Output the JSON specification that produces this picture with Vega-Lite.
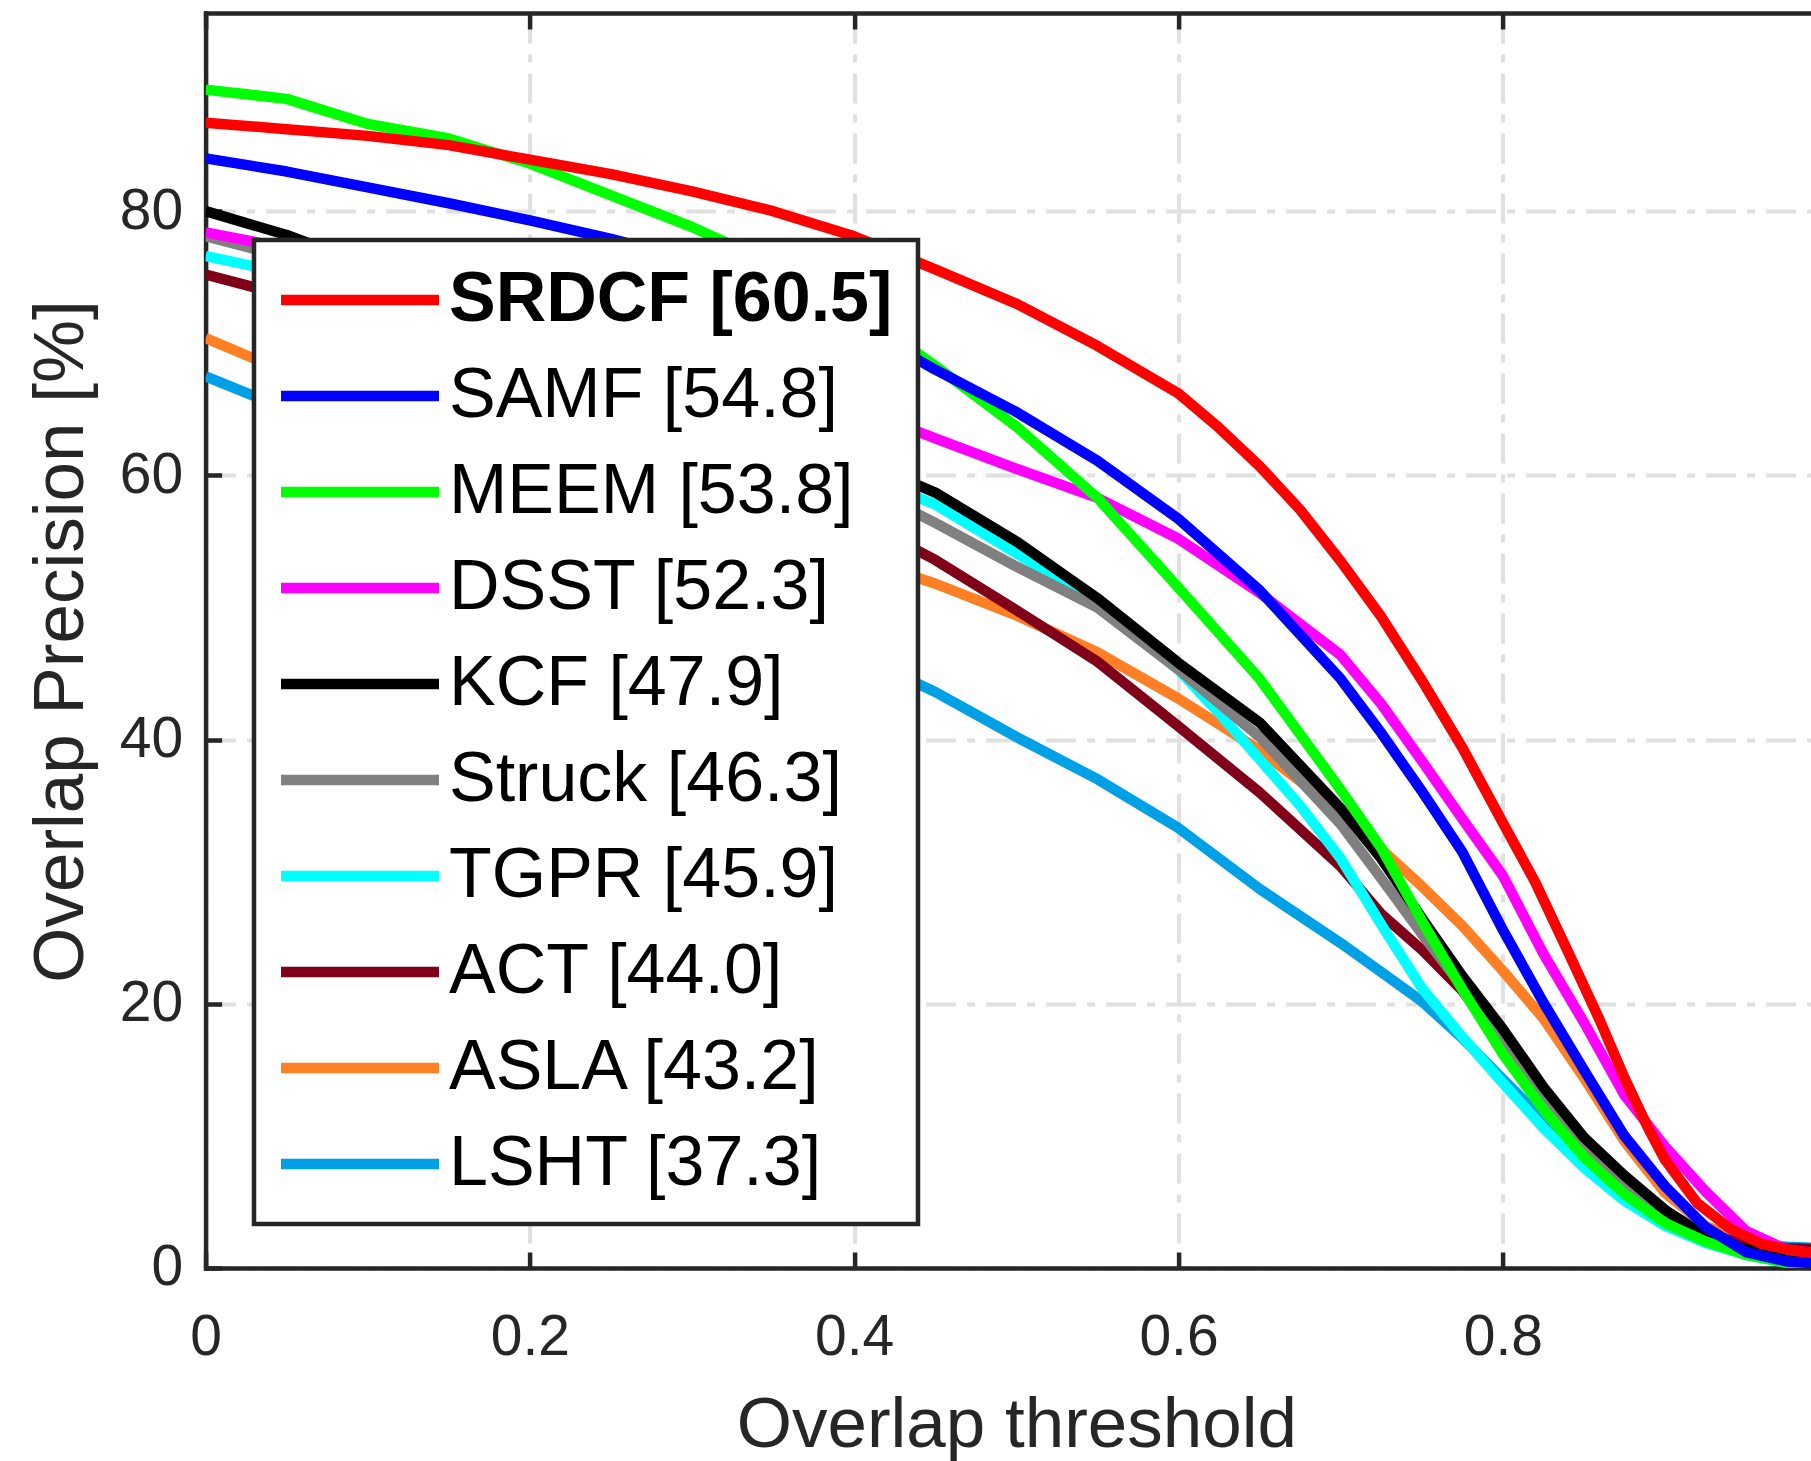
{
  "$schema": "https://vega.github.io/schema/vega-lite/v6.json",
  "autosize": {"type": "none"},
  "padding": {"left": 205.6, "top": 13, "right": 0, "bottom": 193},
  "width": 1605.3,
  "height": 1255,
  "background": "white",
  "config": {
    "view": {"stroke": null},
    "font": "Liberation Sans",
    "legend": {"strokeWidth": 4.5}
  },
  "datasets": {
    "curves": [
      {"k":"LSHT [37.3]","x":0,"y":67.5},{"k":"LSHT [37.3]","x":0.05,"y":65.0},{"k":"LSHT [37.3]","x":0.1,"y":62.4},{"k":"LSHT [37.3]","x":0.15,"y":59.7},{"k":"LSHT [37.3]","x":0.2,"y":57.0},{"k":"LSHT [37.3]","x":0.25,"y":54.3},{"k":"LSHT [37.3]","x":0.3,"y":51.7},{"k":"LSHT [37.3]","x":0.35,"y":49.1},{"k":"LSHT [37.3]","x":0.4,"y":46.5},{"k":"LSHT [37.3]","x":0.45,"y":43.6},{"k":"LSHT [37.3]","x":0.5,"y":40.2},{"k":"LSHT [37.3]","x":0.55,"y":37.0},{"k":"LSHT [37.3]","x":0.6,"y":33.3},{"k":"LSHT [37.3]","x":0.65,"y":28.7},{"k":"LSHT [37.3]","x":0.7,"y":24.6},{"k":"LSHT [37.3]","x":0.725,"y":22.4},{"k":"LSHT [37.3]","x":0.75,"y":20.2},{"k":"LSHT [37.3]","x":0.775,"y":17.4},{"k":"LSHT [37.3]","x":0.8,"y":14.3},{"k":"LSHT [37.3]","x":0.825,"y":11.2},{"k":"LSHT [37.3]","x":0.85,"y":8.6},{"k":"LSHT [37.3]","x":0.875,"y":6.4},{"k":"LSHT [37.3]","x":0.9,"y":4.3},{"k":"LSHT [37.3]","x":0.925,"y":2.6},{"k":"LSHT [37.3]","x":0.95,"y":1.8},{"k":"LSHT [37.3]","x":0.975,"y":1.6},{"k":"LSHT [37.3]","x":1.0,"y":1.5},

      {"k":"ASLA [43.2]","x":0,"y":70.4},{"k":"ASLA [43.2]","x":0.05,"y":67.8},{"k":"ASLA [43.2]","x":0.1,"y":65.6},{"k":"ASLA [43.2]","x":0.15,"y":63.5},{"k":"ASLA [43.2]","x":0.2,"y":61.5},{"k":"ASLA [43.2]","x":0.25,"y":59.5},{"k":"ASLA [43.2]","x":0.3,"y":57.6},{"k":"ASLA [43.2]","x":0.35,"y":55.7},{"k":"ASLA [43.2]","x":0.4,"y":53.9},{"k":"ASLA [43.2]","x":0.45,"y":51.8},{"k":"ASLA [43.2]","x":0.5,"y":49.4},{"k":"ASLA [43.2]","x":0.55,"y":46.6},{"k":"ASLA [43.2]","x":0.6,"y":43.1},{"k":"ASLA [43.2]","x":0.65,"y":39.2},{"k":"ASLA [43.2]","x":0.7,"y":34.5},{"k":"ASLA [43.2]","x":0.725,"y":31.7},{"k":"ASLA [43.2]","x":0.75,"y":28.9},{"k":"ASLA [43.2]","x":0.775,"y":25.9},{"k":"ASLA [43.2]","x":0.8,"y":22.5},{"k":"ASLA [43.2]","x":0.825,"y":18.9},{"k":"ASLA [43.2]","x":0.85,"y":14.4},{"k":"ASLA [43.2]","x":0.875,"y":9.6},{"k":"ASLA [43.2]","x":0.9,"y":5.7},{"k":"ASLA [43.2]","x":0.925,"y":3.2},{"k":"ASLA [43.2]","x":0.95,"y":1.9},{"k":"ASLA [43.2]","x":0.975,"y":1.4},{"k":"ASLA [43.2]","x":1.0,"y":1.3},

      {"k":"ACT [44.0]","x":0,"y":75.2},{"k":"ACT [44.0]","x":0.05,"y":73.6},{"k":"ACT [44.0]","x":0.1,"y":71.6},{"k":"ACT [44.0]","x":0.15,"y":69.5},{"k":"ACT [44.0]","x":0.2,"y":67.1},{"k":"ACT [44.0]","x":0.25,"y":64.6},{"k":"ACT [44.0]","x":0.3,"y":62.0},{"k":"ACT [44.0]","x":0.35,"y":59.5},{"k":"ACT [44.0]","x":0.4,"y":56.8},{"k":"ACT [44.0]","x":0.45,"y":53.6},{"k":"ACT [44.0]","x":0.5,"y":49.8},{"k":"ACT [44.0]","x":0.55,"y":45.9},{"k":"ACT [44.0]","x":0.6,"y":41.0},{"k":"ACT [44.0]","x":0.65,"y":36.0},{"k":"ACT [44.0]","x":0.7,"y":30.4},{"k":"ACT [44.0]","x":0.725,"y":26.8},{"k":"ACT [44.0]","x":0.75,"y":24.1},{"k":"ACT [44.0]","x":0.775,"y":21.0},{"k":"ACT [44.0]","x":0.8,"y":17.0},{"k":"ACT [44.0]","x":0.825,"y":12.8},{"k":"ACT [44.0]","x":0.85,"y":9.1},{"k":"ACT [44.0]","x":0.875,"y":6.2},{"k":"ACT [44.0]","x":0.9,"y":4.1},{"k":"ACT [44.0]","x":0.925,"y":2.6},{"k":"ACT [44.0]","x":0.95,"y":1.8},{"k":"ACT [44.0]","x":0.975,"y":1.5},{"k":"ACT [44.0]","x":1.0,"y":1.4},

      {"k":"TGPR [45.9]","x":0,"y":76.6},{"k":"TGPR [45.9]","x":0.05,"y":75.3},{"k":"TGPR [45.9]","x":0.1,"y":73.4},{"k":"TGPR [45.9]","x":0.15,"y":71.4},{"k":"TGPR [45.9]","x":0.2,"y":69.2},{"k":"TGPR [45.9]","x":0.25,"y":67.0},{"k":"TGPR [45.9]","x":0.3,"y":64.7},{"k":"TGPR [45.9]","x":0.35,"y":62.4},{"k":"TGPR [45.9]","x":0.4,"y":60.2},{"k":"TGPR [45.9]","x":0.45,"y":57.8},{"k":"TGPR [45.9]","x":0.5,"y":54.1},{"k":"TGPR [45.9]","x":0.55,"y":50.3},{"k":"TGPR [45.9]","x":0.6,"y":45.3},{"k":"TGPR [45.9]","x":0.625,"y":42.0},{"k":"TGPR [45.9]","x":0.65,"y":38.5},{"k":"TGPR [45.9]","x":0.675,"y":35.0},{"k":"TGPR [45.9]","x":0.7,"y":31.0},{"k":"TGPR [45.9]","x":0.725,"y":26.0},{"k":"TGPR [45.9]","x":0.75,"y":21.2},{"k":"TGPR [45.9]","x":0.775,"y":17.5},{"k":"TGPR [45.9]","x":0.8,"y":14.0},{"k":"TGPR [45.9]","x":0.825,"y":10.6},{"k":"TGPR [45.9]","x":0.85,"y":7.6},{"k":"TGPR [45.9]","x":0.875,"y":5.1},{"k":"TGPR [45.9]","x":0.9,"y":3.2},{"k":"TGPR [45.9]","x":0.925,"y":1.9},{"k":"TGPR [45.9]","x":0.95,"y":1.0},{"k":"TGPR [45.9]","x":0.975,"y":0.4},{"k":"TGPR [45.9]","x":1.0,"y":0.2},

      {"k":"Struck [46.3]","x":0,"y":78.1},{"k":"Struck [46.3]","x":0.05,"y":76.5},{"k":"Struck [46.3]","x":0.1,"y":74.5},{"k":"Struck [46.3]","x":0.15,"y":72.2},{"k":"Struck [46.3]","x":0.2,"y":69.8},{"k":"Struck [46.3]","x":0.25,"y":67.2},{"k":"Struck [46.3]","x":0.3,"y":64.7},{"k":"Struck [46.3]","x":0.35,"y":62.1},{"k":"Struck [46.3]","x":0.4,"y":59.5},{"k":"Struck [46.3]","x":0.45,"y":56.4},{"k":"Struck [46.3]","x":0.5,"y":53.1},{"k":"Struck [46.3]","x":0.55,"y":50.0},{"k":"Struck [46.3]","x":0.6,"y":45.3},{"k":"Struck [46.3]","x":0.65,"y":40.2},{"k":"Struck [46.3]","x":0.7,"y":33.6},{"k":"Struck [46.3]","x":0.725,"y":29.5},{"k":"Struck [46.3]","x":0.75,"y":25.3},{"k":"Struck [46.3]","x":0.775,"y":21.3},{"k":"Struck [46.3]","x":0.8,"y":16.9},{"k":"Struck [46.3]","x":0.825,"y":12.5},{"k":"Struck [46.3]","x":0.85,"y":8.9},{"k":"Struck [46.3]","x":0.875,"y":6.1},{"k":"Struck [46.3]","x":0.9,"y":3.9},{"k":"Struck [46.3]","x":0.925,"y":2.3},{"k":"Struck [46.3]","x":0.95,"y":1.3},{"k":"Struck [46.3]","x":0.975,"y":1.0},{"k":"Struck [46.3]","x":1.0,"y":0.9},

      {"k":"KCF [47.9]","x":0,"y":80.0},{"k":"KCF [47.9]","x":0.05,"y":78.2},{"k":"KCF [47.9]","x":0.1,"y":75.9},{"k":"KCF [47.9]","x":0.15,"y":73.6},{"k":"KCF [47.9]","x":0.2,"y":71.0},{"k":"KCF [47.9]","x":0.25,"y":68.5},{"k":"KCF [47.9]","x":0.3,"y":66.0},{"k":"KCF [47.9]","x":0.35,"y":63.6},{"k":"KCF [47.9]","x":0.4,"y":61.3},{"k":"KCF [47.9]","x":0.45,"y":58.7},{"k":"KCF [47.9]","x":0.5,"y":55.0},{"k":"KCF [47.9]","x":0.55,"y":50.7},{"k":"KCF [47.9]","x":0.6,"y":45.8},{"k":"KCF [47.9]","x":0.65,"y":41.3},{"k":"KCF [47.9]","x":0.7,"y":34.8},{"k":"KCF [47.9]","x":0.725,"y":31.0},{"k":"KCF [47.9]","x":0.75,"y":26.5},{"k":"KCF [47.9]","x":0.775,"y":22.1},{"k":"KCF [47.9]","x":0.8,"y":18.1},{"k":"KCF [47.9]","x":0.825,"y":13.7},{"k":"KCF [47.9]","x":0.85,"y":9.9},{"k":"KCF [47.9]","x":0.875,"y":7.0},{"k":"KCF [47.9]","x":0.9,"y":4.4},{"k":"KCF [47.9]","x":0.925,"y":2.4},{"k":"KCF [47.9]","x":0.95,"y":1.4},{"k":"KCF [47.9]","x":0.975,"y":1.0},{"k":"KCF [47.9]","x":1.0,"y":0.9},

      {"k":"DSST [52.3]","x":0,"y":78.4},{"k":"DSST [52.3]","x":0.05,"y":77.2},{"k":"DSST [52.3]","x":0.1,"y":75.8},{"k":"DSST [52.3]","x":0.15,"y":74.2},{"k":"DSST [52.3]","x":0.2,"y":72.5},{"k":"DSST [52.3]","x":0.25,"y":70.8},{"k":"DSST [52.3]","x":0.3,"y":69.0},{"k":"DSST [52.3]","x":0.35,"y":67.2},{"k":"DSST [52.3]","x":0.4,"y":65.2},{"k":"DSST [52.3]","x":0.45,"y":62.8},{"k":"DSST [52.3]","x":0.5,"y":60.5},{"k":"DSST [52.3]","x":0.55,"y":58.3},{"k":"DSST [52.3]","x":0.6,"y":55.2},{"k":"DSST [52.3]","x":0.65,"y":51.1},{"k":"DSST [52.3]","x":0.7,"y":46.4},{"k":"DSST [52.3]","x":0.725,"y":42.7},{"k":"DSST [52.3]","x":0.75,"y":38.4},{"k":"DSST [52.3]","x":0.775,"y":34.0},{"k":"DSST [52.3]","x":0.8,"y":29.7},{"k":"DSST [52.3]","x":0.825,"y":23.8},{"k":"DSST [52.3]","x":0.85,"y":18.6},{"k":"DSST [52.3]","x":0.875,"y":13.1},{"k":"DSST [52.3]","x":0.9,"y":9.2},{"k":"DSST [52.3]","x":0.925,"y":5.8},{"k":"DSST [52.3]","x":0.95,"y":2.8},{"k":"DSST [52.3]","x":0.975,"y":1.4},{"k":"DSST [52.3]","x":1.0,"y":1.0},

      {"k":"MEEM [53.8]","x":0,"y":89.2},{"k":"MEEM [53.8]","x":0.05,"y":88.5},{"k":"MEEM [53.8]","x":0.1,"y":86.6},{"k":"MEEM [53.8]","x":0.15,"y":85.5},{"k":"MEEM [53.8]","x":0.2,"y":83.6},{"k":"MEEM [53.8]","x":0.25,"y":81.2},{"k":"MEEM [53.8]","x":0.3,"y":78.8},{"k":"MEEM [53.8]","x":0.35,"y":76.0},{"k":"MEEM [53.8]","x":0.4,"y":72.6},{"k":"MEEM [53.8]","x":0.45,"y":68.3},{"k":"MEEM [53.8]","x":0.5,"y":63.7},{"k":"MEEM [53.8]","x":0.55,"y":58.3},{"k":"MEEM [53.8]","x":0.6,"y":51.5},{"k":"MEEM [53.8]","x":0.65,"y":44.6},{"k":"MEEM [53.8]","x":0.7,"y":36.2},{"k":"MEEM [53.8]","x":0.725,"y":31.8},{"k":"MEEM [53.8]","x":0.75,"y":26.3},{"k":"MEEM [53.8]","x":0.775,"y":21.1},{"k":"MEEM [53.8]","x":0.8,"y":16.2},{"k":"MEEM [53.8]","x":0.825,"y":12.0},{"k":"MEEM [53.8]","x":0.85,"y":8.4},{"k":"MEEM [53.8]","x":0.875,"y":5.6},{"k":"MEEM [53.8]","x":0.9,"y":3.4},{"k":"MEEM [53.8]","x":0.925,"y":2.0},{"k":"MEEM [53.8]","x":0.95,"y":1.0},{"k":"MEEM [53.8]","x":0.975,"y":0.4},{"k":"MEEM [53.8]","x":1.0,"y":0.1},

      {"k":"SAMF [54.8]","x":0,"y":84.0},{"k":"SAMF [54.8]","x":0.05,"y":83.0},{"k":"SAMF [54.8]","x":0.1,"y":81.8},{"k":"SAMF [54.8]","x":0.15,"y":80.6},{"k":"SAMF [54.8]","x":0.2,"y":79.3},{"k":"SAMF [54.8]","x":0.25,"y":77.9},{"k":"SAMF [54.8]","x":0.3,"y":76.3},{"k":"SAMF [54.8]","x":0.35,"y":74.2},{"k":"SAMF [54.8]","x":0.4,"y":71.5},{"k":"SAMF [54.8]","x":0.45,"y":68.0},{"k":"SAMF [54.8]","x":0.5,"y":64.8},{"k":"SAMF [54.8]","x":0.55,"y":61.1},{"k":"SAMF [54.8]","x":0.6,"y":56.7},{"k":"SAMF [54.8]","x":0.65,"y":51.3},{"k":"SAMF [54.8]","x":0.7,"y":44.6},{"k":"SAMF [54.8]","x":0.725,"y":40.5},{"k":"SAMF [54.8]","x":0.75,"y":36.1},{"k":"SAMF [54.8]","x":0.775,"y":31.5},{"k":"SAMF [54.8]","x":0.8,"y":25.6},{"k":"SAMF [54.8]","x":0.825,"y":20.1},{"k":"SAMF [54.8]","x":0.85,"y":15.0},{"k":"SAMF [54.8]","x":0.875,"y":10.0},{"k":"SAMF [54.8]","x":0.9,"y":6.2},{"k":"SAMF [54.8]","x":0.925,"y":3.1},{"k":"SAMF [54.8]","x":0.95,"y":1.2},{"k":"SAMF [54.8]","x":0.975,"y":0.5},{"k":"SAMF [54.8]","x":1.0,"y":0.3},

      {"k":"SRDCF [60.5]","x":0,"y":86.7},{"k":"SRDCF [60.5]","x":0.05,"y":86.2},{"k":"SRDCF [60.5]","x":0.1,"y":85.7},{"k":"SRDCF [60.5]","x":0.15,"y":85.0},{"k":"SRDCF [60.5]","x":0.2,"y":83.9},{"k":"SRDCF [60.5]","x":0.25,"y":82.8},{"k":"SRDCF [60.5]","x":0.3,"y":81.5},{"k":"SRDCF [60.5]","x":0.35,"y":80.0},{"k":"SRDCF [60.5]","x":0.4,"y":78.1},{"k":"SRDCF [60.5]","x":0.45,"y":75.6},{"k":"SRDCF [60.5]","x":0.5,"y":73.0},{"k":"SRDCF [60.5]","x":0.55,"y":69.8},{"k":"SRDCF [60.5]","x":0.6,"y":66.2},{"k":"SRDCF [60.5]","x":0.625,"y":63.6},{"k":"SRDCF [60.5]","x":0.65,"y":60.7},{"k":"SRDCF [60.5]","x":0.675,"y":57.4},{"k":"SRDCF [60.5]","x":0.7,"y":53.5},{"k":"SRDCF [60.5]","x":0.725,"y":49.3},{"k":"SRDCF [60.5]","x":0.75,"y":44.5},{"k":"SRDCF [60.5]","x":0.775,"y":39.4},{"k":"SRDCF [60.5]","x":0.8,"y":33.7},{"k":"SRDCF [60.5]","x":0.82,"y":29.2},{"k":"SRDCF [60.5]","x":0.84,"y":24.0},{"k":"SRDCF [60.5]","x":0.86,"y":18.7},{"k":"SRDCF [60.5]","x":0.875,"y":14.4},{"k":"SRDCF [60.5]","x":0.89,"y":10.5},{"k":"SRDCF [60.5]","x":0.9,"y":8.2},{"k":"SRDCF [60.5]","x":0.92,"y":4.9},{"k":"SRDCF [60.5]","x":0.94,"y":3.0},{"k":"SRDCF [60.5]","x":0.96,"y":1.8},{"k":"SRDCF [60.5]","x":0.98,"y":1.3},{"k":"SRDCF [60.5]","x":1.0,"y":1.0}
    ]
  },
  "layer": [
    {
      "data": {"name": "curves"},
      "mark": {"type": "line", "strokeWidth": 10.5, "strokeJoin": "round", "clip": true},
      "encoding": {
        "x": {
          "field": "x", "type": "quantitative",
          "scale": {"domain": [0, 0.99], "nice": false, "zero": false},
          "axis": {
            "orient": "bottom",
            "values": [0, 0.2, 0.4, 0.6, 0.8],
            "format": "~f",
            "title": "Overlap threshold",
            "grid": true, "gridColor": "#e0e0e0", "gridWidth": 4, "gridDash": [30, 11, 8, 11],
            "domain": true, "domainColor": "#262626", "domainWidth": 4.5, "domainCap": "square",
            "ticks": true, "tickSize": -16, "tickWidth": 4.5, "tickColor": "#262626",
            "labelFontSize": 57, "labelColor": "#262626", "labelPadding": 58,
            "labelFlush": false, "labelOverlap": false,
            "titleFontSize": 71, "titleFontWeight": "normal", "titleColor": "#262626",
            "titleX": 810.75, "titleY": 179, "titleBaseline": "alphabetic", "titleAlign": "center"
          }
        },
        "y": {
          "field": "y", "type": "quantitative",
          "scale": {"domain": [0, 95], "nice": false},
          "axis": {
            "orient": "left",
            "values": [0, 20, 40, 60, 80],
            "title": "Overlap Precision [%]",
            "grid": true, "gridColor": "#e0e0e0", "gridWidth": 4, "gridDash": [30, 11, 8, 11],
            "domain": true, "domainColor": "#262626", "domainWidth": 4.5, "domainCap": "square",
            "ticks": true, "tickSize": -16, "tickWidth": 4.5, "tickColor": "#262626",
            "labelFontSize": 57, "labelColor": "#262626", "labelPadding": 39,
            "labelFlush": false, "labelOverlap": false,
            "titleFontSize": 71, "titleFontWeight": "normal", "titleColor": "#262626",
            "titleX": -123, "titleY": 628, "titleBaseline": "alphabetic", "titleAlign": "center", "titleAngle": -90
          }
        },
        "color": {
          "field": "k", "type": "nominal",
          "scale": {
            "domain": ["SRDCF [60.5]", "SAMF [54.8]", "MEEM [53.8]", "DSST [52.3]", "KCF [47.9]", "Struck [46.3]", "TGPR [45.9]", "ACT [44.0]", "ASLA [43.2]", "LSHT [37.3]"],
            "range": ["#ff0000", "#0000ff", "#00ff00", "#ff00ff", "#000000", "#808080", "#00ffff", "#80001a", "#ff7f24", "#00a0e6"]
          },
          "legend": {
            "orient": "none", "legendX": 48.4, "legendY": 227,
            "title": null,
            "symbolType": "M-4,0H4", "symbolSize": 1560, "symbolStrokeWidth": 10.5, "symbolOffset": 46,
            "labelFontSize": 70, "labelColor": "#000000", "labelFont": "Liberation Sans",
            "labelOffset": 54, "labelLimit": 0,
            "rowPadding": 26, "padding": 25,
            "strokeColor": "#262626", "fillColor": "#ffffff",
            "encoding": {
              "labels": {
                "fontWeight": {"condition": {"test": "datum.value === 'SRDCF [60.5]'", "value": "bold"}, "value": "normal"}
              }
            }
          }
        }
      }
    },
    {
      "data": {"values": [{}]},
      "mark": {"type": "rule", "strokeOpacity": 0},
      "encoding": {
        "x": {
          "datum": 0, "type": "quantitative",
          "axis": {
            "orient": "top",
            "values": [0, 0.2, 0.4, 0.6, 0.8],
            "labels": false, "title": null, "grid": false,
            "domain": true, "domainColor": "#262626", "domainWidth": 4.5, "domainCap": "square",
            "ticks": true, "tickSize": -16, "tickWidth": 4.5, "tickColor": "#262626"
          }
        }
      }
    }
  ],
  "resolve": {"axis": {"x": "independent"}}
}
